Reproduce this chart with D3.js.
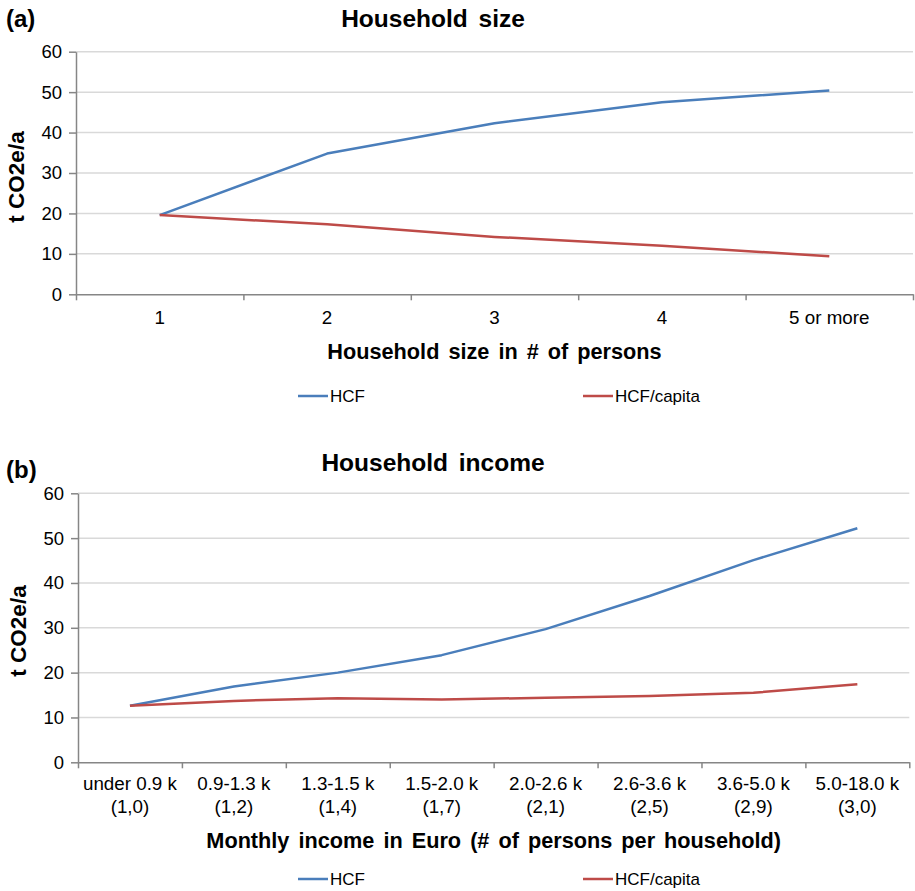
<!DOCTYPE html>
<html>
<head>
<meta charset="utf-8">
<script src="https://cdn.jsdelivr.net/npm/d3@7"></script>
<style>
  body { margin: 0; background: #fff; }
  text { font-family: "Liberation Sans", Arial, sans-serif; fill: #000; }
</style>
</head>
<body>
<div id="chart"></div>
<script>
const width = 915;
const height = 891;

// panel (a) data
const sizeCats = ["1", "2", "3", "4", "5 or more"];
const sizeHCF = [19.6, 34.8, 42.3, 47.5, 50.4];
const sizeHCFcap = [19.6, 17.3, 14.2, 12.0, 9.4];

// panel (b) data
const incomeCats = [
    ["under 0.9 k", "(1,0)"], ["0.9-1.3 k", "(1,2)"], ["1.3-1.5 k", "(1,4)"], ["1.5-2.0 k", "(1,7)"],
    ["2.0-2.6 k", "(2,1)"], ["2.6-3.6 k", "(2,5)"], ["3.6-5.0 k", "(2,9)"], ["5.0-18.0 k", "(3,0)"]
];
const incomeHCF = [12.6, 16.9, 20.0, 23.9, 29.7, 37.1, 45.1, 52.2];
const incomeHCFcap = [12.6, 13.7, 14.3, 14.0, 14.4, 14.8, 15.5, 17.4];

const yTicks = [0, 10, 20, 30, 40, 50, 60];
const seriesNames = ["HCF", "HCF/capita"];
const colors = ["#4a7ebb", "#be4b48"];

const svg = d3.select("#chart")
    .append("svg")
    .attr("width", width)
    .attr("height", height);

function drawPanel(p) {
    const n = p.cats.length;
    const xb = d3.scaleLinear().domain([0, n]).range([p.x0, p.x1]);
    const y = d3.scaleLinear().domain([0, 60]).range([p.yBot, p.yTop]);

    // gridlines
    svg.append("g")
        .selectAll("line")
        .data(yTicks.filter(t => t > 0))
        .enter()
        .append("line")
        .attr("x1", p.x0).attr("x2", p.x1)
        .attr("y1", d => y(d)).attr("y2", d => y(d))
        .attr("stroke", "#d9d9d9")
        .attr("stroke-width", 1.5);

    // y axis
    const yAxis = svg.append("g")
        .attr("transform", `translate(${p.x0},0)`)
        .call(d3.axisLeft(y).tickValues(yTicks).tickSize(7).tickSizeOuter(0).tickPadding(7));
    yAxis.select(".domain").attr("stroke", "#868686").attr("stroke-width", 1.5);
    yAxis.selectAll(".tick line").attr("stroke", "#868686").attr("stroke-width", 1.5);
    yAxis.selectAll(".tick text").attr("font-size", 18.5).attr("font-family", "Liberation Sans, Arial, sans-serif");

    // x axis, ticks at category boundaries
    const xAxis = svg.append("g")
        .attr("transform", `translate(0,${p.yBot})`)
        .call(d3.axisBottom(xb).tickValues(d3.range(n + 1)).tickFormat("").tickSize(6).tickSizeOuter(0));
    xAxis.select(".domain").attr("stroke", "#868686").attr("stroke-width", 1.5);
    xAxis.selectAll(".tick line").attr("stroke", "#868686").attr("stroke-width", 1.5);

    // category labels
    p.cats.forEach((c, i) => {
        const lines = Array.isArray(c) ? c : [c];
        const t = svg.append("text")
            .attr("x", xb(i + 0.5))
            .attr("y", p.labelY)
            .attr("text-anchor", "middle")
            .attr("font-size", 18.8);
        lines.forEach((l, j) => {
            t.append("tspan").attr("x", xb(i + 0.5)).attr("dy", j === 0 ? 0 : 22.5).text(l);
        });
    });

    // series lines
    const line = d3.line()
        .x((d, i) => xb(i + 0.5))
        .y(d => y(d));
    [p.hcf, p.cap].forEach((s, k) => {
        svg.append("path")
            .datum(s)
            .attr("fill", "none")
            .attr("stroke", colors[k])
            .attr("stroke-width", 2.5)
            .attr("stroke-linejoin", "round")
            .attr("d", line);
    });

    // panel letter and title
    svg.append("text").attr("x", 6).attr("y", p.letterY)
        .attr("font-size", 24).attr("font-weight", "bold").text(p.letter);
    svg.append("text").attr("x", 433).attr("y", p.titleY)
        .attr("text-anchor", "middle").attr("font-size", 24.5).attr("font-weight", "bold")
        .attr("word-spacing", 4).text(p.title);

    // axis titles
    svg.append("text")
        .attr("transform", `translate(${p.yTitleX},${p.yTitleY}) rotate(-90)`)
        .attr("text-anchor", "middle").attr("font-size", 22.5).attr("font-weight", "bold")
        .text("t CO2e/a");
    svg.append("text").attr("x", (p.x0 + p.x1) / 2).attr("y", p.xTitleY)
        .attr("text-anchor", "middle").attr("font-size", 21.7).attr("font-weight", "bold")
        .attr("word-spacing", 3).text(p.xTitle);

    // legend
    const legX = [298, 583];
    seriesNames.forEach((name, k) => {
        svg.append("line")
            .attr("x1", legX[k]).attr("x2", legX[k] + 30)
            .attr("y1", p.legendY).attr("y2", p.legendY)
            .attr("stroke", colors[k]).attr("stroke-width", 2.5);
        svg.append("text").attr("x", legX[k] + 32).attr("y", p.legendY + 6)
            .attr("font-size", 17).text(name);
    });
}

drawPanel({
    cats: sizeCats, hcf: sizeHCF, cap: sizeHCFcap,
    x0: 76, x1: 913, yTop: 51.7, yBot: 294.3,
    labelY: 324, letter: "(a)", letterY: 27, title: "Household size", titleY: 27,
    yTitleX: 24, yTitleY: 177, xTitle: "Household size in # of persons", xTitleY: 359,
    legendY: 396
});

drawPanel({
    cats: incomeCats, hcf: incomeHCF, cap: incomeHCFcap,
    x0: 78, x1: 909.3, yTop: 493.3, yBot: 762.3,
    labelY: 790, letter: "(b)", letterY: 478, title: "Household income", titleY: 471,
    yTitleX: 26, yTitleY: 631, xTitle: "Monthly income in Euro (# of persons per household)", xTitleY: 848,
    legendY: 879
});
</script>
</body>
</html>
